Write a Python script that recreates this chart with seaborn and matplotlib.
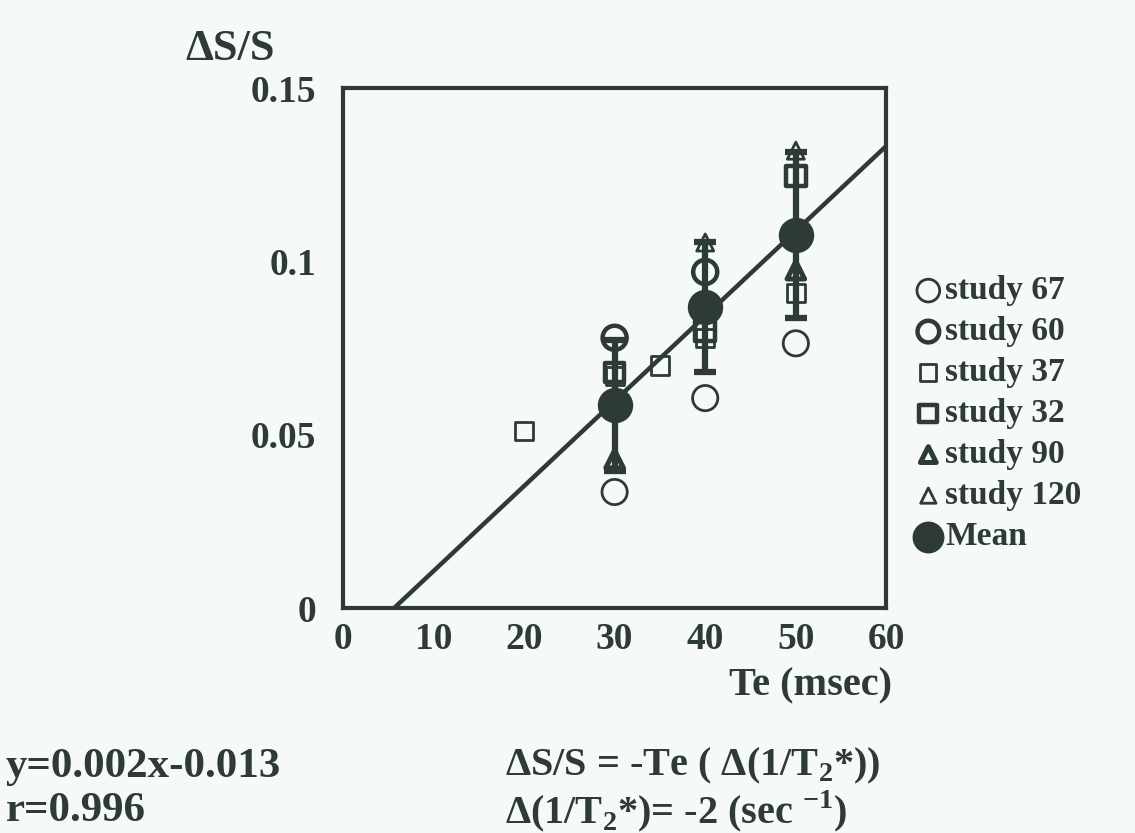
import numpy as np
import matplotlib
matplotlib.use("Agg")
import matplotlib.pyplot as plt
import seaborn as sns

# ==================================================
# DATA
# ==================================================

te_67 = [30, 40, 50]
ds_67 = [0.0335, 0.0606, 0.0764]

te_60 = [30, 40]
ds_60 = [0.078, 0.097]

te_37 = [20, 30, 35, 40, 50]
ds_37 = [0.051, 0.067, 0.070, 0.078, 0.091]

te_32 = [30, 40, 50]
ds_32 = [0.068, 0.080, 0.1246]

te_90 = [30, 50]
ds_90 = [0.043, 0.0975]

te_120 = [40, 50]
ds_120 = [0.1055, 0.132]

te_mean = [30, 40, 50]
ds_mean = [0.0585, 0.0868, 0.1076]
ds_err = [0.0188, 0.0188, 0.024]

x_ticks = [0, 10, 20, 30, 40, 50, 60]
y_ticks = [0, 0.05, 0.1, 0.15]
y_ticklabels = ["0", "0.05", "0.1", "0.15"]

# ==================================================
# STYLE
# ==================================================

sns.set_style("white")
plt.rcParams["font.family"] = ["Liberation Serif", "DejaVu Serif"]
plt.rcParams["font.weight"] = "bold"
plt.rcParams["mathtext.fontset"] = "custom"
plt.rcParams["mathtext.rm"] = "Liberation Serif:bold"
plt.rcParams["mathtext.bf"] = "Liberation Serif:bold"

ink = "#2e3a37"
paper = "#f5f9f9"

fig = plt.figure(figsize=(11.35, 8.33), dpi=100, facecolor=paper)
ax = fig.add_axes([0.302, 0.270, 0.479, 0.624])
ax.set_facecolor(paper)

ax.set_xlim(0, 60)
ax.set_ylim(0, 0.15)

# ==================================================
# FIT LINE (from means)
# ==================================================

sns.regplot(
    x=te_mean,
    y=ds_mean,
    ax=ax,
    scatter=False,
    ci=None,
    truncate=False,
    line_kws={"color": ink, "lw": 3.2, "zorder": 2}
)

# ==================================================
# MEAN WITH ERROR BARS
# ==================================================

ax.errorbar(
    te_mean,
    ds_mean,
    yerr=ds_err,
    fmt="none",
    ecolor=ink,
    elinewidth=4.5,
    capsize=8,
    capthick=4.5,
    zorder=3
)

# ==================================================
# STUDIES
# ==================================================

studies = [
    (te_67, ds_67, "o", 330, 2.0, "study 67"),
    (te_60, ds_60, "o", 300, 3.2, "study 60"),
    (te_37, ds_37, "s", 170, 2.0, "study 37"),
    (te_32, ds_32, "s", 200, 3.2, "study 32"),
    (te_90, ds_90, "^", 160, 3.6, "study 90"),
    (te_120, ds_120, "^", 150, 2.0, "study 120"),
]

for xs, ys, mk, size, lw, name in studies:
    sns.scatterplot(
        x=xs,
        y=ys,
        ax=ax,
        marker=mk,
        s=size,
        facecolor="none",
        edgecolor=ink,
        linewidth=lw,
        label=name,
        zorder=4
    )

sns.scatterplot(
    x=te_mean,
    y=ds_mean,
    ax=ax,
    marker="o",
    s=650,
    color=ink,
    edgecolor=ink,
    linewidth=0,
    label="Mean",
    zorder=5
)

# ==================================================
# AXES
# ==================================================

ax.set_xlim(0, 60)
ax.set_ylim(0, 0.15)
ax.set_xticks(x_ticks)
ax.set_yticks(y_ticks)
ax.set_yticklabels(y_ticklabels)
ax.set_xlabel("Te (msec)", fontsize=29, fontweight="bold", color=ink)
ax.xaxis.set_label_coords(1.01, -0.115, transform=ax.transAxes)
ax.xaxis.label.set_ha("right")
ax.set_ylabel("")

for side in ["left", "right", "top", "bottom"]:
    ax.spines[side].set_visible(True)
    ax.spines[side].set_color(ink)
    ax.spines[side].set_linewidth(3)

ax.tick_params(axis="x", direction="out", length=9, width=3, color=ink,
               labelsize=27, labelcolor=ink, pad=1)
ax.tick_params(axis="y", direction="out", length=5, width=3, color=ink,
               labelsize=27, labelcolor=ink, pad=14)

for lab in ax.get_xticklabels() + ax.get_yticklabels():
    lab.set_fontweight("bold")

# ==================================================
# LEGEND
# ==================================================

handles, labels = ax.get_legend_handles_labels()
ax.legend(
    handles,
    labels,
    loc="upper left",
    bbox_to_anchor=(900 / 1135, 1 - 262 / 833),
    bbox_transform=fig.transFigure,
    frameon=False,
    labelspacing=0.3,
    handletextpad=0.05,
    handlelength=0.9,
    borderaxespad=0,
    markerscale=0.9,
    labelcolor=ink,
    prop={"weight": "bold", "size": 24}
)

# ==================================================
# TEXT
# ==================================================

fig.text(185 / 1135, 1 - 60 / 833, "\u0394S/S", fontsize=32,
         fontweight="bold", color=ink)

fig.text(6 / 1135, 1 - 777 / 833, "y=0.002x-0.013", fontsize=31,
         fontweight="bold", color=ink)
fig.text(6 / 1135, 1 - 821 / 833, "r=0.996", fontsize=31,
         fontweight="bold", color=ink)

fig.text(505 / 1135, 1 - 775 / 833,
         "\u0394S/S = -Te ( \u0394(1/T$_\\mathrm{2}$*))", fontsize=29,
         fontweight="bold", color=ink)
fig.text(505 / 1135, 1 - 823 / 833,
         "\u0394(1/T$_\\mathrm{2}$*)= -2 (sec $^{\\mathrm{-1}}$)",
         fontsize=29, fontweight="bold", color=ink)

fig.savefig("out.png", dpi=100, facecolor=paper)
